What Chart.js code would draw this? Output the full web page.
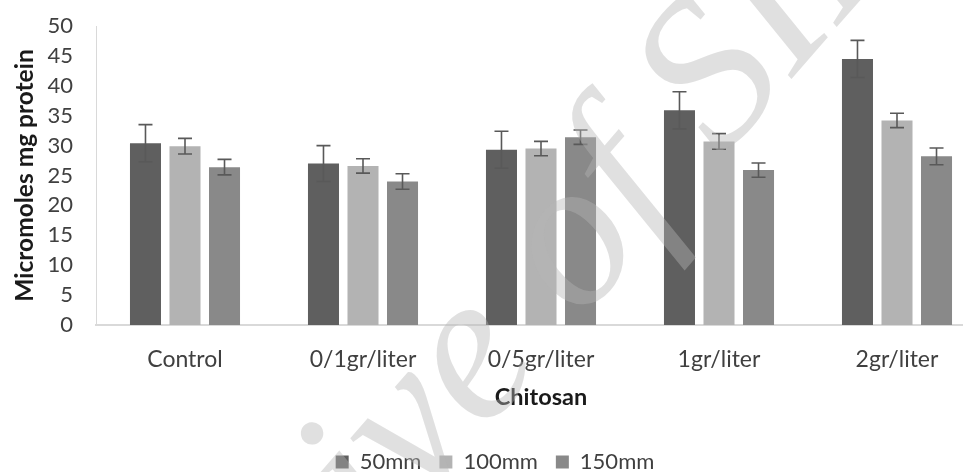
<!DOCTYPE html>
<html>
<head>
<meta charset="utf-8">
<script src="https://cdn.jsdelivr.net/npm/chart.js@4/dist/chart.umd.min.js"></script>
<style>
  html, body { margin: 0; padding: 0; background: #ffffff; overflow: hidden; }
  #wrap { width: 990px; height: 472px; }
</style>
</head>
<body>
<div id="wrap"><canvas id="chart" width="990" height="472"></canvas></div>
<script>
// Chitosan treatments on the x axis
const categories = ['Control', '0/1gr/liter', '0/5gr/liter', '1gr/liter', '2gr/liter'];

// Series names
const seriesNames = ['50mm', '100mm', '150mm'];

// Mean values (micromoles per mg protein)
const values50 = [30.4, 27.0, 29.3, 35.9, 44.5];
const values100 = [29.9, 26.6, 29.5, 30.7, 34.2];
const values150 = [26.4, 24.0, 31.4, 25.9, 28.2];

// Error bar half-lengths
const errors50 = [3.1, 3.0, 3.1, 3.1, 3.1];
const errors100 = [1.3, 1.2, 1.2, 1.3, 1.2];
const errors150 = [1.3, 1.3, 1.2, 1.2, 1.4];

// Y axis ticks
const yTicks = [0, 5, 10, 15, 20, 25, 30, 35, 40, 45, 50];

const seriesColors = ['#5f5f5f', '#b3b3b3', '#898989'];
const seriesValues = [values50, values100, values150];
const seriesErrors = [errors50, errors100, errors150];

const FONT = 'Lato, "Open Sans", sans-serif';

// Draws symmetric error bars on top of each bar using the value scale
const errorBarPlugin = {
  id: 'errorBars',
  afterDatasetsDraw(chart) {
    const ctx = chart.ctx;
    const yScale = chart.scales.y;
    ctx.save();
    ctx.strokeStyle = '#595959';
    ctx.lineWidth = 1.6;
    chart.data.datasets.forEach((ds, i) => {
      const meta = chart.getDatasetMeta(i);
      meta.data.forEach((bar, j) => {
        const v = ds.data[j];
        const e = ds.errors[j];
        const x = bar.x;
        const yHi = yScale.getPixelForValue(v + e);
        const yLo = yScale.getPixelForValue(v - e);
        const cap = 7;
        ctx.beginPath();
        ctx.moveTo(x, yHi); ctx.lineTo(x, yLo);
        ctx.moveTo(x - cap, yHi); ctx.lineTo(x + cap, yHi);
        ctx.moveTo(x - cap, yLo); ctx.lineTo(x + cap, yLo);
        ctx.stroke();
      });
    });
    ctx.restore();
  }
};

// Faint diagonal archive stamp across the plot
const stampPlugin = {
  id: 'stamp',
  afterDraw(chart) {
    const ctx = chart.ctx;
    ctx.save();
    ctx.translate(528, 382);
    ctx.rotate(-49 * Math.PI / 180);
    ctx.font = 'italic 212px "Liberation Serif", "DejaVu Serif", serif';
    ctx.fillStyle = 'rgba(180,180,180,0.42)';
    ctx.textAlign = 'center';
    ctx.textBaseline = 'alphabetic';
    ctx.fillText('Archive of SID', 0, 0);
    ctx.restore();
  }
};

const datasets = seriesNames.map((name, i) => ({
  label: name,
  data: seriesValues[i],
  errors: seriesErrors[i],
  backgroundColor: seriesColors[i],
  borderWidth: 0,
  categoryPercentage: 0.666,
  barPercentage: 0.785
}));

new Chart(document.getElementById('chart'), {
  type: 'bar',
  data: { labels: categories, datasets },
  plugins: [errorBarPlugin, stampPlugin],
  options: {
    responsive: false,
    animation: false,
    devicePixelRatio: 1,
    layout: { padding: { left: 4, right: 4, top: 26, bottom: -11 } },
    plugins: {
      tooltip: { enabled: false },
      legend: {
        position: 'bottom',
        labels: {
          boxWidth: 13,
          boxHeight: 13,
          padding: 18,
          color: '#404040',
          font: { family: FONT, size: 22 }
        }
      }
    },
    scales: {
      x: {
        afterFit(scale) { scale.height = 108; },
        grid: { display: false, drawTicks: false },
        border: { display: true, color: '#d9d9d9', width: 2 },
        ticks: { color: '#404040', padding: 21, font: { family: FONT, size: 23 } },
        title: {
          display: true,
          text: 'Chitosan',
          color: '#1a1a1a',
          padding: { top: 11, bottom: 21 },
          font: { family: FONT, size: 23.5, weight: 'bold' }
        }
      },
      y: {
        min: yTicks[0],
        max: yTicks[yTicks.length - 1],
        afterBuildTicks(scale) { scale.ticks = yTicks.map(v => ({ value: v })); },
        afterFit(scale) {
          scale.width = 92;
          scale.paddingTop = 0;
          scale.paddingBottom = 0;
        },
        grid: { display: false, drawTicks: false },
        border: { display: true, color: '#d9d9d9', width: 1 },
        ticks: { autoSkip: false, color: '#404040', padding: 23, font: { family: FONT, size: 22 } },
        title: {
          display: true,
          text: 'Micromoles mg protein',
          color: '#1a1a1a',
          padding: { top: 6, bottom: 0 },
          font: { family: FONT, size: 24.5, weight: 'bold' }
        }
      }
    }
  }
});
</script>
</body>
</html>
